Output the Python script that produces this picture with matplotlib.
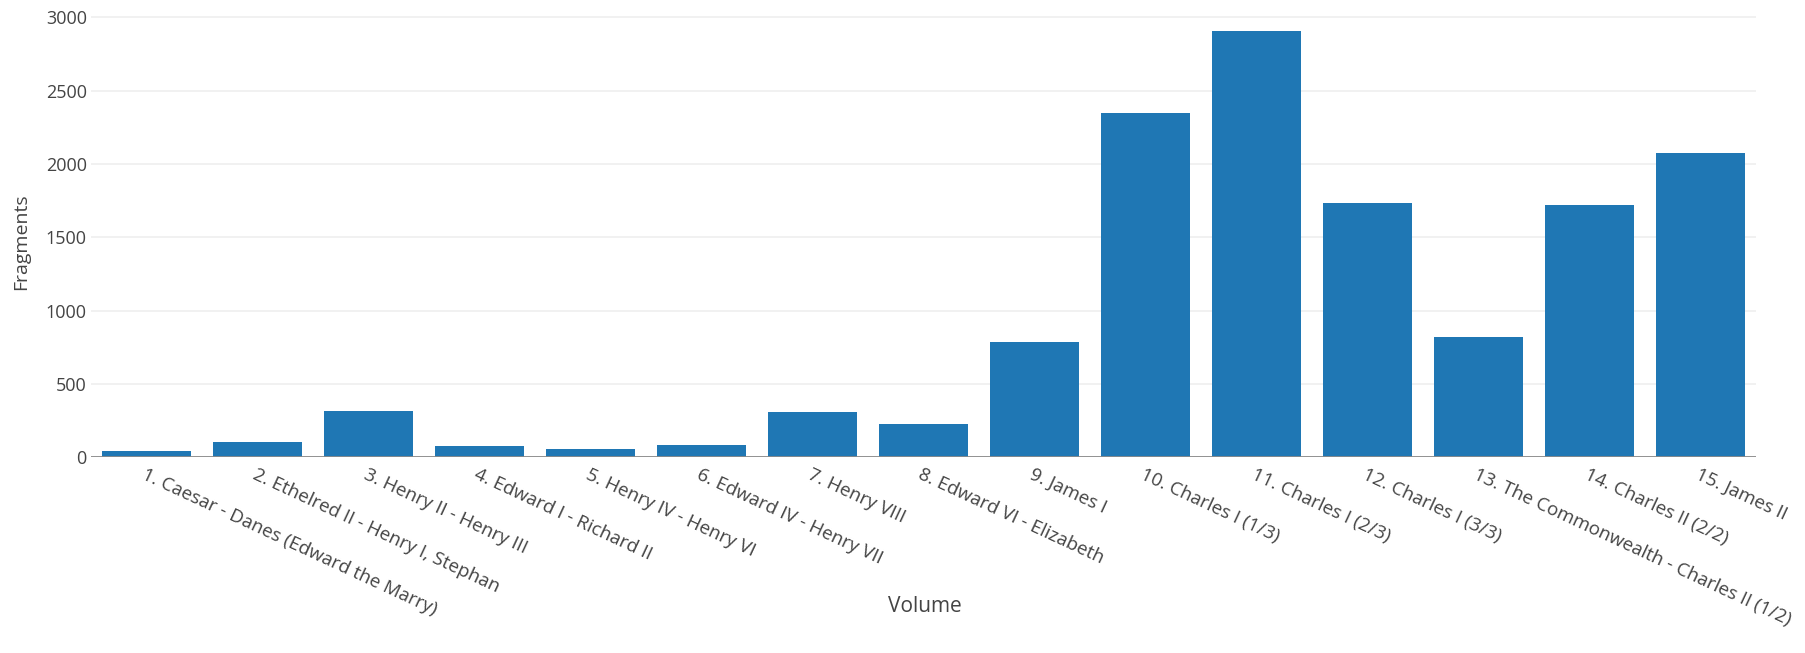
import matplotlib
matplotlib.use("Agg")
import matplotlib.pyplot as plt
import numpy as np

plt.rcParams['font.family'] = ['Open Sans', 'DejaVu Sans']

# volumes and number of fragments per volume
volumes = [
    "1. Caesar - Danes (Edward the Marry)",
    "2. Ethelred II - Henry I, Stephan",
    "3. Henry II - Henry III",
    "4. Edward I - Richard II",
    "5. Henry IV - Henry VI",
    "6. Edward IV - Henry VII",
    "7. Henry VIII",
    "8. Edward VI - Elizabeth",
    "9. James I",
    "10. Charles I (1/3)",
    "11. Charles I (2/3)",
    "12. Charles I (3/3)",
    "13. The Commonwealth - Charles II (1/2)",
    "14. Charles II (2/2)",
    "15. James II",
]
fragments = [43, 105, 317, 77, 59, 88, 310, 229, 784, 2346, 2908, 1733, 819, 1722, 2075]
yticks = [0, 500, 1000, 1500, 2000, 2500, 3000]

txt = "#444444"

fig = plt.figure(figsize=(18.06, 6.53), dpi=100)
ax = fig.add_axes([0.0504, 0.2994, 0.9219, 0.6876])

x = np.arange(len(volumes))
ax.bar(x, fragments, width=0.8, color="#1f77b4", zorder=2)

ax.set_xlim(-0.5, len(volumes) - 0.5)
ax.set_ylim(0, 3060)
ax.set_yticks(yticks)
ax.set_yticklabels([str(t) for t in yticks], fontsize=13, color=txt)
ax.grid(axis="y", color="#eeeeee", lw=1.1, zorder=0)
ax.axhline(0, color="#8a8a8a", lw=1.3, zorder=3)
ax.tick_params(axis="y", length=0, pad=3)
ax.tick_params(axis="x", length=0)
for s in ax.spines.values():
    s.set_visible(False)

# angled category labels, starting under each bar
ax.set_xticks(x)
ax.set_xticklabels([])
for i, lab in enumerate(volumes):
    ax.annotate(lab, (i, 0), xytext=(-4, -16), textcoords="offset pixels",
                rotation=-25, rotation_mode="anchor", ha="left", va="center",
                fontsize=13.5, color=txt, annotation_clip=False)

fig.text(925 / 1806, 1 - 607 / 653, "Volume", ha="center", va="center",
         fontsize=15, color=txt)
fig.text(21 / 1806, 1 - 242 / 653, "Fragments", ha="center", va="center",
         rotation=90, fontsize=14, color=txt)

fig.savefig("out.png", dpi=100, facecolor="white")
